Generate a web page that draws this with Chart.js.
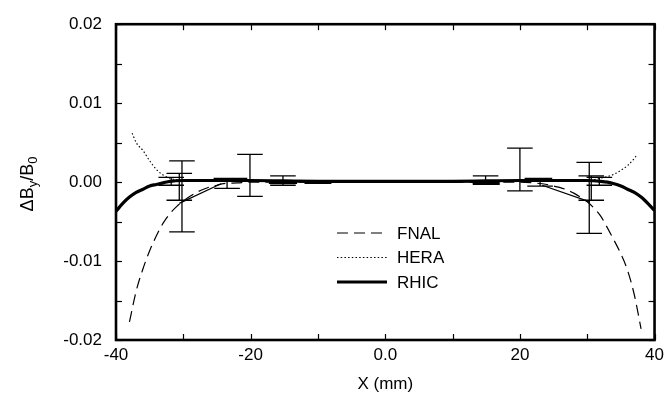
<!DOCTYPE html>
<html>
<head>
<meta charset="utf-8">
<script src="https://cdn.jsdelivr.net/npm/chart.js@4.4.1/dist/chart.umd.min.js"></script>
<style>
html,body{margin:0;padding:0;background:#fff;}
#wrap{width:669px;height:395px;}
</style>
</head>
<body>
<div id="wrap"><canvas id="c" width="669" height="395"></canvas></div>
<script>
// ---- data ----
const fnalX = [-38,-37,-36,-35,-34,-33,-32,-31,-30,-29,-28,-27,-26,-25,-24,-22,-20,-10,0,10,20,22,24,25,26,27,28,29,30,31,32,33,34,35,36,37,38];
const fnalY = [-0.0177,-0.0138,-0.0110,-0.0087,-0.0068,-0.0052,-0.0040,-0.0031,-0.0024,-0.0018,-0.0013,-0.0009,-0.0006,-0.0004,-0.0002,-0.0001,0,0,0,0,0,-0.0001,-0.0003,-0.0005,-0.0007,-0.0010,-0.0014,-0.0019,-0.0025,-0.0033,-0.0043,-0.0058,-0.0074,-0.0091,-0.0112,-0.0143,-0.0186];

const heraX = [-37.6,-37,-36,-35,-34,-33,-32,-31,-30,-20,-10,0,10,20,30,31,32,33,34,35,36,37,37.4];
const heraY = [0.0062,0.0050,0.0040,0.0027,0.0016,0.0009,0.0005,0.0003,0.0002,0.0001,0.0001,0.0001,0.0001,0.0001,0.0002,0.0003,0.0005,0.0007,0.0010,0.0015,0.0021,0.0030,0.0035];

const rhicX = [-40,-39,-38,-37,-36,-35,-34,-33,-32,-30,-20,-10,0,10,20,30,32,33,34,35,36,37,38,39,40];
const rhicY = [-0.0037,-0.0027,-0.0019,-0.0013,-0.0009,-0.0005,-0.0003,-0.0001,0.0001,0.0002,0.0002,0.0001,0.0001,0.0001,0.0002,0.0002,0.0001,0.0000,-0.0002,-0.0005,-0.0009,-0.0013,-0.0019,-0.0027,-0.0036];

// measured points with error bars
const errX  = [-31.8,-30.6,-30.2,-23.5,-20.1,-15.2,14.9,20.0,23.0,30.3,30.6,31.8];
const errHi = [0.0006,0.0011,0.0027,0.0003,0.0035,0.0008,0.0008,0.0043,0.0003,0.0025,0.0008,0.0006];
const errLo = [-0.0004,-0.0023,-0.0063,-0.0008,-0.0018,-0.0004,-0.0002,-0.0011,-0.0005,-0.0065,-0.0023,-0.0004];

// thin solid connecting lines of the measurements
const measX = [[-30.6,-24.4],[23.3,30.4]];
const measY = [[-0.0027,-0.0002],[-0.0004,-0.0025]];

// thick short measured segments near zero
const segX1 = [-25.5,-17.3,-12.0,13.0,20.7];
const segX2 = [-20.5,-13.1,-8.0,17.0,24.8];
const segY  = [0.0003,0.0000,0.0000,-0.0001,0.0003];

const xTicks = [-40,-20,0,20,40];
const yTicks = [-0.02,-0.01,0,0.01,0.02];

// ---- build chart data ----
const pts = (xs, ys) => xs.map((x,i)=>({x:x, y:ys[i]}));
const CAP = 1.9;
const errPts = [];
errX.forEach((x,i)=>{
  errPts.push({x:x,y:errLo[i]},{x:x,y:errHi[i]},{x:x,y:null});
  errPts.push({x:x-CAP,y:errHi[i]},{x:x+CAP,y:errHi[i]},{x:x,y:null});
  errPts.push({x:x-CAP,y:errLo[i]},{x:x+CAP,y:errLo[i]},{x:x,y:null});
});
const measPts = [];
measX.forEach((xs,i)=>{ xs.forEach((x,j)=>measPts.push({x:x,y:measY[i][j]})); measPts.push({x:xs[0],y:null}); });
const segPts = [];
segX1.forEach((x,i)=>{ segPts.push({x:x,y:segY[i]},{x:segX2[i],y:segY[i]},{x:x,y:null}); });

const FONT = '"Liberation Sans", Arial, sans-serif';

const framePlugin = {
  id:'frame',
  afterDatasetsDraw(chart){
    const {ctx, chartArea:a, scales} = chart;
    ctx.save();
    ctx.strokeStyle='#000';
    // inward ticks
    ctx.lineWidth=1.2;
    const ys = scales.y, xs = scales.x;
    for(let v=-0.02; v<=0.0201; v+=0.005){
      const py = Math.round(ys.getPixelForValue(v))+0.5;
      ctx.beginPath(); ctx.moveTo(a.left,py); ctx.lineTo(a.left+6,py); ctx.stroke();
      ctx.beginPath(); ctx.moveTo(a.right,py); ctx.lineTo(a.right-6,py); ctx.stroke();
    }
    for(let v=-40; v<=40; v+=10){
      const px = Math.round(xs.getPixelForValue(v))+0.5;
      ctx.beginPath(); ctx.moveTo(px,a.bottom); ctx.lineTo(px,a.bottom-6); ctx.stroke();
      ctx.beginPath(); ctx.moveTo(px,a.top); ctx.lineTo(px,a.top+6); ctx.stroke();
    }
    // frame
    ctx.lineWidth=2.6;
    ctx.strokeRect(a.left,a.top,a.right-a.left,a.bottom-a.top);
    // legend
    const items = [chart.data.datasets[0],chart.data.datasets[1],chart.data.datasets[2]];
    const lx1 = a.left+221, lx2 = a.left+271, tx = a.left+281;
    const rows = [233,257.5,282];
    ctx.font = '17px '+FONT;
    ctx.fillStyle='#000';
    ctx.textBaseline='middle';
    ctx.textAlign='left';
    items.forEach((d,i)=>{
      ctx.save();
      ctx.lineWidth=d.borderWidth;
      ctx.setLineDash(d.borderDash||[]);
      ctx.beginPath(); ctx.moveTo(lx1,rows[i]); ctx.lineTo(lx2,rows[i]); ctx.stroke();
      ctx.restore();
      ctx.fillText(d.label, tx, rows[i]+1);
    });
    // axis titles
    ctx.textAlign='center';
    ctx.fillText('X (mm)', (a.left+a.right)/2, 384);
    ctx.save();
    ctx.translate(28,184);
    ctx.rotate(-Math.PI/2);
    const parts = [['ΔB',18,0],['y',13,5],['/B',18,0],['0',13,5]];
    let w=0; parts.forEach(p=>{ctx.font=p[1]+'px '+FONT; w+=ctx.measureText(p[0]).width;});
    let x=-w/2;
    ctx.textAlign='left';
    parts.forEach(p=>{ctx.font=p[1]+'px '+FONT; ctx.fillText(p[0],x,p[2]); x+=ctx.measureText(p[0]).width;});
    ctx.restore();
    ctx.restore();
  }
};

new Chart(document.getElementById('c'), {
  type:'line',
  data:{datasets:[
    {label:'FNAL', data:pts(fnalX,fnalY), borderColor:'#000', borderWidth:1.2, borderDash:[11,6], pointRadius:0, cubicInterpolationMode:'monotone', fill:false},
    {label:'HERA', data:pts(heraX,heraY), borderColor:'#000', borderWidth:1.1, borderDash:[1.5,2.2], pointRadius:0, cubicInterpolationMode:'monotone', fill:false},
    {label:'RHIC', data:pts(rhicX,rhicY), borderColor:'#000', borderWidth:3.2, pointRadius:0, cubicInterpolationMode:'monotone', fill:false},
    {label:'err', data:errPts, borderColor:'#000', borderWidth:1.3, pointRadius:0, spanGaps:false, tension:0, fill:false},
    {label:'meas', data:measPts, borderColor:'#000', borderWidth:1.2, pointRadius:0, spanGaps:false, tension:0, fill:false},
    {label:'seg', data:segPts, borderColor:'#000', borderWidth:4, pointRadius:0, spanGaps:false, tension:0, fill:false}
  ]},
  options:{
    responsive:false, animation:false, devicePixelRatio:1,
    layout:{padding:{top:17,right:11,left:0,bottom:0}},
    plugins:{legend:{display:false}, tooltip:{enabled:false}},
    scales:{
      x:{type:'linear', min:-40, max:40,
        grid:{display:false, drawTicks:false},
        border:{display:false},
        afterFit(s){ s.height=55; },
        afterBuildTicks(s){ s.ticks = xTicks.map(v=>({value:v})); },
        ticks:{padding:5, color:'#000', font:{family:FONT,size:17}, maxRotation:0,
          callback:(v)=> v===0 ? '0.0' : String(v)}
      },
      y:{type:'linear', min:-0.02, max:0.02,
        grid:{display:false, drawTicks:false},
        border:{display:false},
        afterFit(s){ s.width=116; },
        afterBuildTicks(s){ s.ticks = yTicks.map(v=>({value:v})); },
        ticks:{padding:14, color:'#000', font:{family:FONT,size:17},
          callback:(v)=> (Math.abs(v)<1e-9?0:v).toFixed(2)}
      }
    }
  },
  plugins:[framePlugin]
});
</script>
</body>
</html>
